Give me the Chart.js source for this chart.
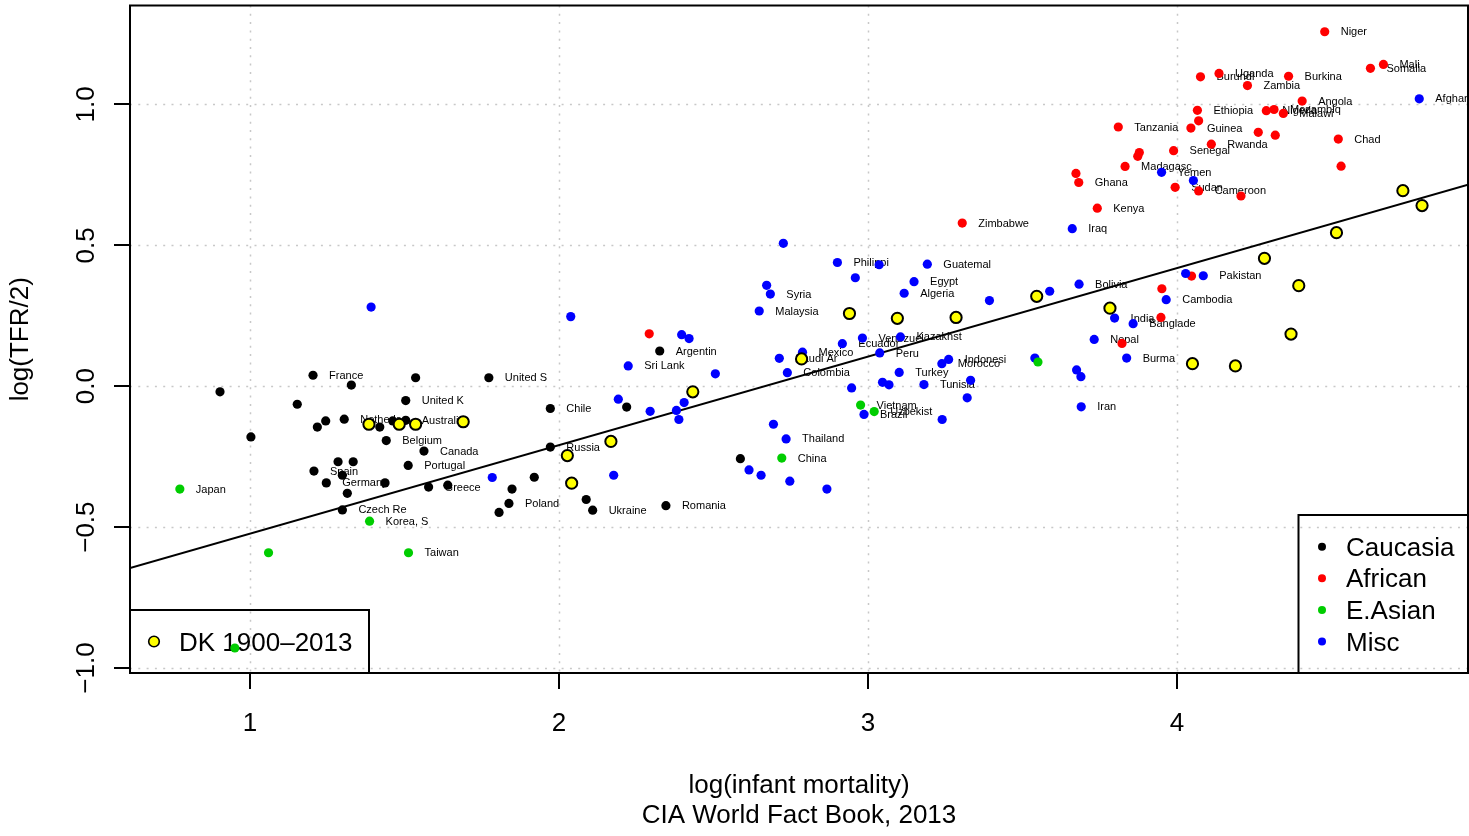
<!DOCTYPE html>
<html>
<head>
<meta charset="utf-8">
<script src="https://cdn.jsdelivr.net/npm/chart.js@4.4.1/dist/chart.umd.min.js"></script>
<style>
html,body{margin:0;padding:0;background:#fff;}
canvas{display:block;}
</style>
</head>
<body>
<canvas id="c" width="1469" height="836" style="width:1469px;height:836px"></canvas>
<script>
// ---------- DATA ----------
// Caucasia (black)
const caucX = [0.903,1.003,1.204,1.328,1.536,1.773,1.153,1.504,1.245,1.305,1.218,1.420,1.462,1.504,1.441,1.563,1.512,1.285,1.334,1.207,1.299,1.247,1.437,1.315,1.299,1.578,1.640,1.848,1.838,1.806,1.972,2.219,2.326,1.972,1.920,2.088,2.109,2.346,2.587];
const caucY = [-0.020,-0.180,0.039,0.004,0.030,0.030,-0.064,-0.051,-0.123,-0.117,-0.145,-0.145,-0.123,-0.121,-0.193,-0.230,-0.281,-0.268,-0.268,-0.301,-0.316,-0.343,-0.343,-0.380,-0.439,-0.358,-0.351,-0.365,-0.416,-0.448,-0.079,-0.074,0.125,-0.216,-0.323,-0.402,-0.440,-0.424,-0.257];
const caucLab = ["","","France","","","United S","","United K","","Netherla","","","","Australi","Belgium","Canada","Portugal","","","Spain","","Germany","","","Czech Re","Greece","","","Poland","","Chile","","Argentin","Russia","","","Ukraine","Romania",""];

// African (red)
const afrX = [2.292,3.305,4.066,4.070,3.810,4.045,4.289,4.314,4.344,4.263,4.318,4.111,4.522,4.531,3.989,3.878,3.873,3.832,3.673,3.682,3.994,4.070,4.207,3.742,4.047,3.951,3.948,3.822,4.478,4.626,4.668,4.076,4.136,4.228,4.361,4.405];
const afrY = [0.186,0.579,0.979,0.942,0.920,0.916,0.978,0.982,0.968,0.901,0.891,0.859,0.877,0.781,0.836,0.829,0.816,0.780,0.755,0.723,0.706,0.693,0.675,0.632,0.391,0.346,0.244,0.152,1.258,1.128,1.142,1.098,1.110,1.067,1.100,1.012];
const afrLab = ["","Zimbabwe","Ethiopia","","Tanzania","Guinea","Nigeria","Mozambiq","Malawi","","","Rwanda","Chad","","Senegal","","","Madagasc","","Ghana","Sudan","Cameroon","","Kenya","","","","","Niger","Somalia","Mali","Burundi","Uganda","Zambia","Burkina","Angola"];

// E.Asian (green)
const easX = [0.773,1.060,1.387,1.513,0.951,2.721,2.976,3.020,3.550];
const easY = [-0.365,-0.591,-0.479,-0.591,-0.929,-0.255,-0.067,-0.090,0.086];
const easLab = ["Japan","","Korea, S","Taiwan","","China","Vietnam","Uzbekist",""];

// Misc (blue)
const miscX = [1.392,1.784,2.038,2.397,2.421,2.224,2.506,2.192,2.295,2.380,2.405,2.388,2.177,2.648,2.713,2.739,2.788,2.917,2.694,2.735,2.615,2.654,2.747,2.867,2.726,2.901,3.036,2.959,3.192,3.149,3.117,2.672,2.684,3.393,3.588,3.683,3.732,2.982,3.105,3.038,3.101,3.239,3.261,3.047,3.068,2.947,3.181,3.332,3.321,2.987,3.240,3.540,3.675,3.689,3.690,3.661,3.950,4.053,4.028,4.085,3.965,3.798,3.858,3.837,4.784];
const miscY = [0.281,-0.324,0.247,0.183,0.169,0.072,0.044,-0.046,-0.089,-0.086,-0.058,-0.118,-0.316,0.267,0.099,0.048,0.121,0.151,-0.135,-0.187,-0.297,-0.316,-0.337,-0.365,0.507,0.439,0.431,0.385,0.433,0.371,0.330,0.358,0.327,0.304,0.337,0.362,0.166,0.171,0.175,0.118,0.049,0.080,0.095,0.014,0.005,-0.006,0.006,0.021,-0.041,-0.100,-0.118,0.100,0.058,0.034,-0.073,0.559,0.759,0.730,0.400,0.392,0.307,0.242,0.222,0.100,1.020];
const miscLab = ["","","","","","Sri Lank","","","","","","","","Malaysia","Saudi Ar","Colombia","Mexico","Ecuador","","Thailand","","","","","","Philippi","","","Guatemal","Egypt","Algeria","","Syria","","","Bolivia","Nepal","Venezuel","Kazakhst","Peru","Turkey","Morocco","Indonesi","","","","Tunisia","","","Brazil","","","","","Iran","Iraq","Yemen","","","Pakistan","Cambodia","India","Banglade","Burma","Afghanis"];

// Denmark 1900-2013 (yellow)
const dkX = [1.385,1.483,1.536,1.690,2.027,2.041,2.168,2.433,2.785,2.940,3.095,3.285,3.546,3.783,4.050,4.189,4.369,4.394,4.283,4.516,4.731,4.793];
const dkY = [-0.135,-0.135,-0.135,-0.126,-0.246,-0.344,-0.196,-0.020,0.097,0.258,0.241,0.244,0.319,0.277,0.080,0.072,0.185,0.357,0.454,0.545,0.694,0.641];

// Regression line
const fitIntercept = -0.837;
const fitSlope = 0.314;

// Axes
const xMin = 0.6117, xMax = 4.9417;
const yMin = -1.0177, yMax = 1.3511;
const xTicks = [1,2,3,4];
const xTickLabels = ["1","2","3","4"];
const yTicks = [-1,-0.5,0,0.5,1];
const yTickLabels = ["\u22121.0","\u22120.5","0.0","0.5","1.0"];
const groupNames = ["Caucasia","African","E.Asian","Misc"];
const groupColors = ["#000000","#ff0000","#00cd00","#0000ff"];
const dkLegend = "DK 1900\u20132013";
const xTitle = "log(infant mortality)";
const xSub = "CIA World Fact Book, 2013";
const yTitle = "log(TFR/2)";

// ---------- build ----------
const pts = (xs, ys) => xs.map((v,i)=>({x:v, y:ys[i]}));
const FONT = '"Liberation Sans", Arial, Helvetica, sans-serif';

const labelSets = [
  {ds:1, labels: caucLab},
  {ds:2, labels: afrLab},
  {ds:3, labels: easLab},
  {ds:4, labels: miscLab}
];

const rPlot = {
  id: 'rplot',
  beforeDatasetsDraw(chart) {
    const {ctx, chartArea:a, scales:{x, y}} = chart;
    ctx.save();
    // dotted grid
    ctx.strokeStyle = '#c8c8c8';
    ctx.lineWidth = 1.5;
    ctx.setLineDash([2, 6.3]);
    xTicks.forEach(v => {
      const px = Math.round(x.getPixelForValue(v)) + 0.5;
      ctx.beginPath(); ctx.moveTo(px, a.top); ctx.lineTo(px, a.bottom); ctx.stroke();
    });
    yTicks.forEach(v => {
      const py = Math.round(y.getPixelForValue(v)) + 0.5;
      ctx.beginPath(); ctx.moveTo(a.left, py); ctx.lineTo(a.right, py); ctx.stroke();
    });
    ctx.setLineDash([]);

    // point labels
    ctx.font = '11px ' + FONT;
    ctx.fillStyle = '#000';
    ctx.textAlign = 'left';
    ctx.textBaseline = 'middle';
    labelSets.forEach(s => {
      const meta = chart.getDatasetMeta(s.ds);
      s.labels.forEach((t, i) => {
        if (!t) return;
        const el = meta.data[i];
        ctx.fillText(t, el.x + 16, el.y + 0.5);
      });
    });

    // legend: DK (bottom-left)
    ctx.strokeStyle = '#000';
    ctx.lineWidth = 2;
    ctx.strokeRect(a.left, 610, 369 - a.left, a.bottom - 610);
    ctx.beginPath();
    ctx.arc(154, 641.5, 5.3, 0, Math.PI*2);
    ctx.fillStyle = '#ffff00'; ctx.fill();
    ctx.lineWidth = 1.6; ctx.strokeStyle = '#000'; ctx.stroke();
    ctx.fillStyle = '#000';
    ctx.font = '26px ' + FONT;
    ctx.textBaseline = 'alphabetic';
    ctx.fillText(dkLegend, 179, 651);

    // legend: groups (bottom-right)
    ctx.lineWidth = 2;
    ctx.strokeRect(1298.5, 515, a.right - 1298.5 + 2, a.bottom - 515);
    groupNames.forEach((n, i) => {
      const cy = 546.7 + i * 31.6;
      ctx.beginPath();
      ctx.arc(1322, cy, 4, 0, Math.PI*2);
      ctx.fillStyle = groupColors[i]; ctx.fill();
      ctx.fillStyle = '#000';
      ctx.fillText(n, 1346, cy + 9);
    });
    ctx.restore();
  },
  afterDraw(chart) {
    const {ctx, chartArea:a, scales:{x, y}} = chart;
    ctx.save();
    ctx.strokeStyle = '#000';
    ctx.lineWidth = 2;
    ctx.strokeRect(a.left, a.top, a.right - a.left, a.bottom - a.top);
    // ticks
    ctx.lineWidth = 2;
    xTicks.forEach(v => {
      const px = Math.round(x.getPixelForValue(v));
      ctx.beginPath(); ctx.moveTo(px, a.bottom); ctx.lineTo(px, a.bottom + 16); ctx.stroke();
    });
    yTicks.forEach(v => {
      const py = Math.round(y.getPixelForValue(v));
      ctx.beginPath(); ctx.moveTo(a.left, py); ctx.lineTo(a.left - 16, py); ctx.stroke();
    });
    ctx.fillStyle = '#000';
    ctx.font = '26px ' + FONT;
    ctx.textAlign = 'center';
    ctx.textBaseline = 'alphabetic';
    xTicks.forEach((v, i) => {
      ctx.fillText(xTickLabels[i], x.getPixelForValue(v), 731);
    });
    yTicks.forEach((v, i) => {
      ctx.save();
      ctx.translate(93.5, y.getPixelForValue(v));
      ctx.rotate(-Math.PI/2);
      ctx.fillText(yTickLabels[i], 0, 0);
      ctx.restore();
    });
    const cx = (a.left + a.right) / 2;
    ctx.fillText(xTitle, cx, 793);
    ctx.fillText(xSub, cx, 823);
    ctx.save();
    ctx.translate(28, (a.top + a.bottom) / 2);
    ctx.rotate(-Math.PI/2);
    ctx.fillText(yTitle, 0, 0);
    ctx.restore();
    ctx.restore();
  }
};

const ptDs = (data, color, order) => ({
  type: 'scatter', data, order,
  backgroundColor: color, borderColor: color, borderWidth: 0,
  pointRadius: 4.6, pointHoverRadius: 4.6
});

new Chart(document.getElementById('c'), {
  type: 'scatter',
  data: {
    datasets: [
      { type:'scatter', data: pts(dkX, dkY), order: 0,
        backgroundColor:'#ffff00', borderColor:'#000', borderWidth:2,
        pointRadius:5.6, pointHoverRadius:5.6 },
      ptDs(pts(caucX, caucY), groupColors[0], 4),
      ptDs(pts(afrX, afrY), groupColors[1], 3),
      ptDs(pts(easX, easY), groupColors[2], 1),
      ptDs(pts(miscX, miscY), groupColors[3], 2),
      { type:'line', order: 5,
        data: [{x:xMin, y:fitIntercept + fitSlope*xMin}, {x:xMax, y:fitIntercept + fitSlope*xMax}],
        borderColor:'#000', borderWidth:2, pointRadius:0, fill:false, tension:0 }
    ]
  },
  options: {
    responsive: false,
    animation: false,
    events: [],
    layout: { autoPadding: false, padding: { left:130, top:5.5, right:1, bottom:163 } },
    scales: {
      x: { type:'linear', min:xMin, max:xMax, display:false },
      y: { type:'linear', min:yMin, max:yMax, display:false }
    },
    plugins: { legend:{display:false}, tooltip:{enabled:false} }
  },
  plugins: [rPlot]
});
</script>
</body>
</html>
